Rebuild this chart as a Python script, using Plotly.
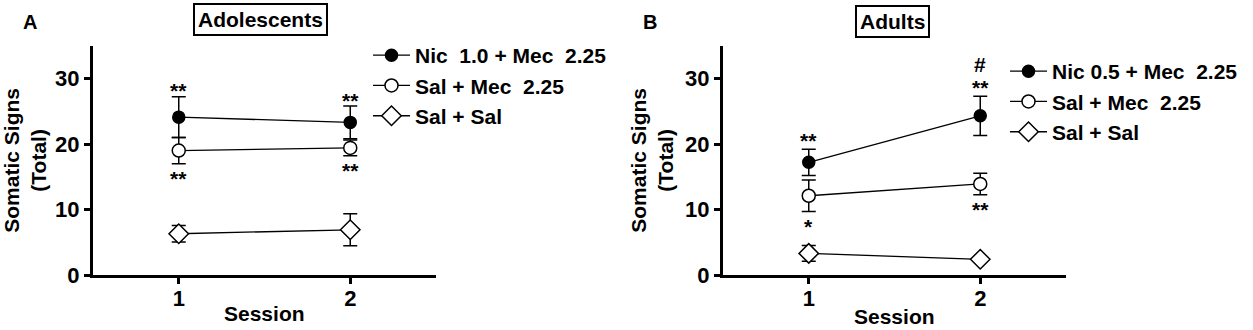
import plotly.graph_objects as go

# ---------------- data ----------------
sessions = [1, 2]
session_labels = ["1", "2"]
y_ticks = [0, 10, 20, 30]

# Panel A (Adolescents)
a_names = ["Nic\u00a0\u00a01.0 + Mec\u00a0\u00a02.25", "Sal + Mec\u00a0\u00a02.25", "Sal + Sal"]
a_nic = [24.1, 23.3]
a_nic_err = [3.1, 2.5]
a_salmec = [19.0, 19.4]
a_salmec_err = [2.0, 1.2]
a_salsal = [6.3, 6.9]
a_salsal_err = [1.25, 2.45]

# Panel B (Adults)
b_names = ["Nic 0.5 + Mec\u00a0\u00a02.25", "Sal + Mec\u00a0\u00a02.25", "Sal + Sal"]
b_nic = [17.2, 24.3]
b_nic_err = [2.0, 3.0]
b_salmec = [12.1, 13.9]
b_salmec_err = [2.4, 1.65]
b_salsal = [3.3, 2.4]
b_salsal_err = [1.2, 0.3]

# significance marks
a_sig_above_nic = ["**", "**"]
a_sig_below_salmec = ["**", "**"]
b_sig_above_nic = ["**", "**"]
b_hash_nic = ["", "#"]
b_sig_below_salmec = ["*", "**"]

# ---------------- styling ----------------
FONT = "Arial, Liberation Sans, Helvetica, sans-serif"
styles = [
    dict(symbol="circle", size=12, color="black", line=dict(color="black", width=1.5)),
    dict(symbol="circle", size=13, color="white", line=dict(color="black", width=1.5)),
    dict(symbol="diamond", size=15, color="white", line=dict(color="black", width=1.5)),
]

fig = go.Figure()


def add_panel(names, means, errs, xa, ya, legend):
    for name, m, e, st in zip(names, means, errs, styles):
        fig.add_trace(go.Scatter(
            x=sessions, y=m, name=name, mode="lines+markers",
            xaxis=xa, yaxis=ya, legend=legend,
            line=dict(color="black", width=1.3),
            marker=st,
            error_y=dict(type="data", array=e, visible=True, color="black",
                         thickness=1.5, width=7),
        ))


add_panel(a_names, [a_nic, a_salmec, a_salsal], [a_nic_err, a_salmec_err, a_salsal_err],
          "x", "y", "legend")
add_panel(b_names, [b_nic, b_salmec, b_salsal], [b_nic_err, b_salmec_err, b_salsal_err],
          "x2", "y2", "legend2")

annotations = []
ABOVE = 6
BELOW = -15


def sig(texts, means, errs, xref, yref, above, extra=0):
    for s, m, e, t in zip(sessions, means, errs, texts):
        if not t:
            continue
        yv = m + e if above else m - e
        annotations.append(dict(
            x=s, y=yv, xref=xref, yref=yref, text=t, showarrow=False,
            yanchor="middle", yshift=(ABOVE if above else BELOW) + extra,
            font=dict(family=FONT, size=21, color="black", weight="bold"),
        ))


sig(a_sig_above_nic, a_nic, a_nic_err, "x", "y", True)
sig(a_sig_below_salmec, a_salmec, a_salmec_err, "x", "y", False)
sig(b_sig_above_nic, b_nic, b_nic_err, "x2", "y2", True, extra=3)
sig(b_hash_nic, b_nic, b_nic_err, "x2", "y2", True, extra=26)
sig(b_sig_below_salmec, b_salmec, b_salmec_err, "x2", "y2", False)

title_font = dict(family=FONT, size=21, color="black", weight="bold")

# panel letters and boxed titles
for txt, xp in [("A", 30 / 1253), ("B", 650 / 1253)]:
    annotations.append(dict(x=xp, y=(330 - 22) / 330, xref="paper", yref="paper",
                            text=txt, showarrow=False, xanchor="center", yanchor="middle",
                            font=dict(family=FONT, size=20, color="black", weight="bold")))
for txt, xp, yp in [("Adolescents", 260 / 1253, (330 - 20) / 330), ("Adults", 892 / 1253, (330 - 22) / 330)]:
    annotations.append(dict(x=xp, y=yp, xref="paper", yref="paper",
                            text=txt, showarrow=False, xanchor="center", yanchor="middle",
                            bordercolor="black", borderwidth=2, borderpad=3,
                            font=dict(family=FONT, size=21, color="black", weight="bold")))
# x-axis titles
for xp, yp in [(264 / 1253, (330 - 313) / 330), (894 / 1253, (330 - 316) / 330)]:
    annotations.append(dict(x=xp, y=yp, xref="paper", yref="paper", text="Session",
                            showarrow=False, xanchor="center", yanchor="middle", font=title_font))

axis_common = dict(showline=True, linecolor="black", linewidth=3, ticks="outside",
                   ticklen=6, tickwidth=3, tickcolor="black", showgrid=False, zeroline=False,
                   tickfont=dict(family=FONT, size=22, color="black", weight="bold"),
                   automargin=False, mirror=False)

xdomA = [93 / 1253, 436 / 1253]
xdomB = [723 / 1253, 1066 / 1253]
ydom = [55 / 330, (330 - 45.75) / 330]

xaxis_kw = dict(axis_common, range=[0.5, 2.5], tickvals=sessions, ticktext=session_labels,
                ticklabelstandoff=-4)
yaxis_kw = dict(axis_common, range=[0, 35], tickvals=y_ticks,
                title=dict(text="Somatic Signs<br>(Total)", standoff=6, font=title_font))

legend_common = dict(font=dict(family=FONT, size=21, color="black", weight="bold"),
                     bgcolor="rgba(0,0,0,0)", borderwidth=0, xanchor="left", yanchor="top",
                     tracegroupgap=0, itemwidth=37)

fig.update_layout(
    width=1253, height=330,
    margin=dict(l=0, r=0, t=0, b=0),
    paper_bgcolor="white", plot_bgcolor="white",
    font=dict(family=FONT, color="black"),
    xaxis=dict(xaxis_kw, domain=xdomA, anchor="y"),
    yaxis=dict(yaxis_kw, domain=ydom, anchor="x"),
    xaxis2=dict(xaxis_kw, domain=xdomB, anchor="y2"),
    yaxis2=dict(yaxis_kw, domain=ydom, anchor="x2"),
    legend=dict(legend_common, x=368 / 1253, y=(330 - 35) / 330),
    legend2=dict(legend_common, x=1005 / 1253, y=(330 - 51) / 330),
    annotations=annotations,
    showlegend=True,
)

fig.write_html("out.html", config={"displayModeBar": False},
               post_script="document.body.style.margin='0';document.body.style.overflow='hidden';")
